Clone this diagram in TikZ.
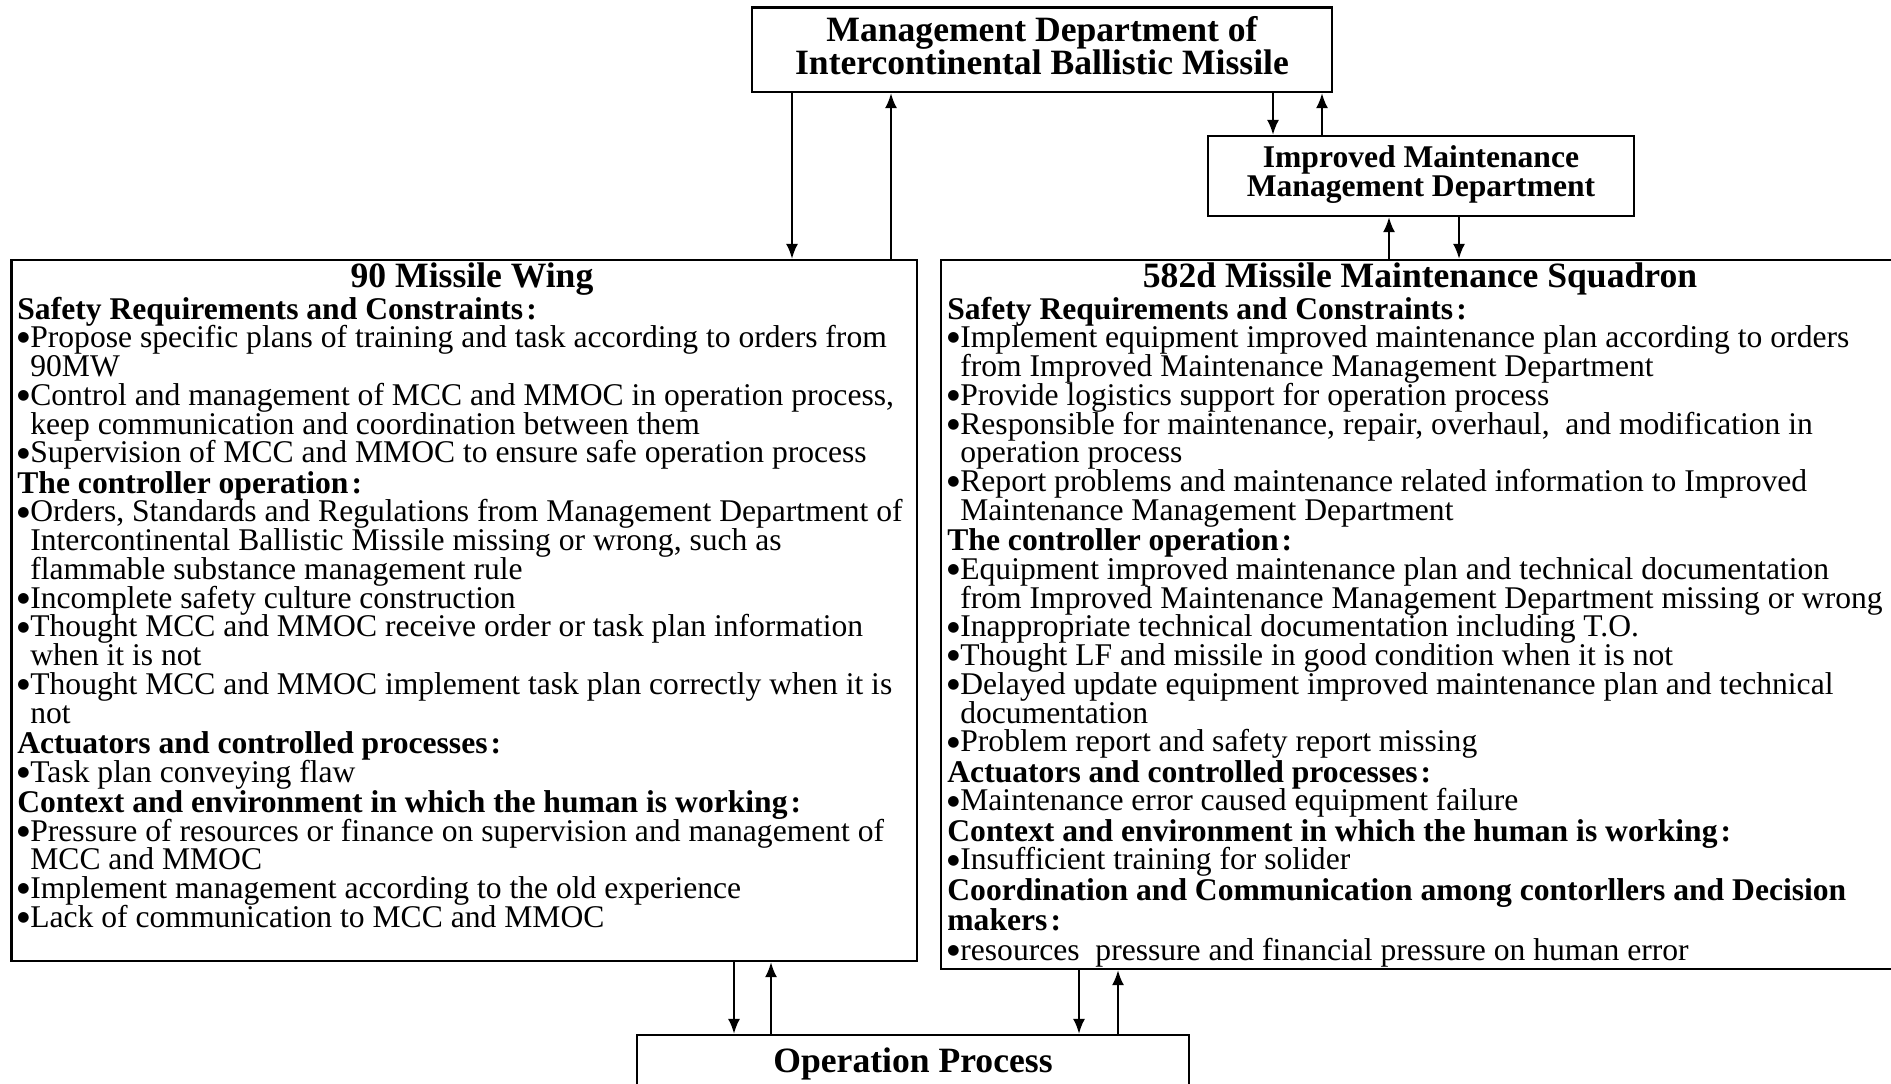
\documentclass[tikz,border=0pt]{standalone}
\usepackage{fontspec}
\setmainfont{Liberation Serif}
\newfontfamily\symfont{DejaVu Sans}
\usetikzlibrary{arrows.meta,fit}
\newcommand{\bodyfont}{\fontsize{15.8pt}{14.38pt}\selectfont}
\newcommand{\titlefont}{\fontsize{17.8pt}{15.5pt}\selectfont\bfseries}
\newcommand{\bul}{\makebox[0.41em][l]{\raisebox{2.9pt}{\symfont\fontsize{7pt}{7pt}\selectfont ●}}}
\newcommand{\ind}{\hspace*{0.41em}}
\newcommand{\hd}[1]{\textbf{#1}}
\newcommand{\cln}{\hspace{0.1em}:}
\begin{document}
\begin{tikzpicture}[x=0.5pt,y=-0.5pt,
  box/.style={draw, line width=1.1pt, inner sep=0pt},
  arr/.style={-{Latex[length=7.5pt,width=6pt]}, line width=1.1pt},
  txt/.style={inner sep=0pt, anchor=base west, font=\bodyfont},
  ttl/.style={inner sep=0pt, anchor=base, font=\titlefont},
  sub/.style={inner sep=0pt, anchor=base, font=\bodyfont\bfseries}]
\useasboundingbox (0,0) rectangle (1891,1083);
\clip (0,0) rectangle (1891,1083);
\fill[white] (0,0) rectangle (1891,1083);

% boxes
\node[box, fit={(752,7.5) (1332,92)}] (top) {};
\node[box, fit={(1208,136) (1634,216)}] (imm) {};
\node[box, fit={(11.5,260) (917,961)}] (mw) {};
\node[box, fit={(941,260) (1905,969)}] (mms) {};
\node[box, fit={(637,1035) (1189,1130)}] (op) {};

% box titles
\node[ttl] (topA) at (1042,41) {Management Department of};
\node[ttl] (topB) at (1042,74) {Intercontinental Ballistic Missile};
\node[sub] (immA) at (1421,167) {Improved Maintenance};
\node[sub] (immB) at (1421,196) {Management Department};
\node[ttl] (mwT) at (472,287) {90 Missile Wing};
\node[ttl] (mmsT) at (1420,287) {582d Missile Maintenance Squadron};
\node[ttl] (opT) at (913,1072) {Operation Process};

% left text
\node[txt] (mwtext) at (17,319) {\parbox[t]{460pt}{\lineskiplimit=-20pt\lineskip=0pt
\hd{Safety Requirements and Constraints\cln}\\
\bul Propose specific plans of training and task according to orders from\\
\ind 90MW\\
\bul Control and management of MCC and MMOC in operation process,\\
\ind keep communication and coordination between them\\
\bul Supervision of MCC and MMOC to ensure safe operation process\\[0.75pt]
\hd{The controller operation\cln}\\
\bul Orders, Standards and Regulations from Management Department of\\
\ind Intercontinental Ballistic Missile missing or wrong, such as\\
\ind flammable substance management rule\\
\bul Incomplete safety culture construction\\
\bul Thought MCC and MMOC receive order or task plan information\\
\ind when it is not\\
\bul Thought MCC and MMOC implement task plan correctly when it is\\
\ind not\\[0.75pt]
\hd{Actuators and controlled processes\cln}\\
\bul Task plan conveying flaw\\[0.75pt]
\hd{Context and environment in which the human is working\cln}\\
\bul Pressure of resources or finance on supervision and management of\\
\ind MCC and MMOC\\
\bul Implement management according to the old experience\\
\bul Lack of communication to MCC and MMOC}};

% right text
\node[txt] (mmstext) at (947,319) {\parbox[t]{470pt}{\lineskiplimit=-20pt\lineskip=0pt
\hd{Safety Requirements and Constraints\cln}\\
\bul Implement equipment improved maintenance plan according to orders\\
\ind from Improved Maintenance Management Department\\
\bul Provide logistics support for operation process\\
\bul Responsible for maintenance, repair, overhaul,\ \ and modification in\\
\ind operation process\\
\bul Report problems and maintenance related information to Improved\\
\ind Maintenance Management Department\\[0.75pt]
\hd{The controller operation\cln}\\
\bul Equipment improved maintenance plan and technical documentation\\
\ind from Improved Maintenance Management Department missing or wrong\\
\bul Inappropriate technical documentation including T.O.\\
\bul Thought LF and missile in good condition when it is not\\
\bul Delayed update equipment improved maintenance plan and technical\\
\ind documentation\\
\bul Problem report and safety report missing\\[0.75pt]
\hd{Actuators and controlled processes\cln}\\
\bul Maintenance error caused equipment failure\\[0.75pt]
\hd{Context and environment in which the human is working\cln}\\
\bul Insufficient training for solider\\[0.75pt]
\hd{Coordination and Communication among contorllers and Decision}\\[0.75pt]
\hd{makers\cln}\\[0.75pt]
\bul resources\ \ pressure and financial pressure on human error}};

% arrow positions
\coordinate (a1) at (792,0);
\coordinate (a2) at (891,0);
\coordinate (a3) at (1273,0);
\coordinate (a4) at (1322,0);
\coordinate (a5) at (1389,0);
\coordinate (a6) at (1459,0);
\coordinate (a7) at (734,0);
\coordinate (a8) at (771,0);
\coordinate (a9) at (1079,0);
\coordinate (a10) at (1118,0);

\draw[arr] (top.south -| a1) -- (mw.north -| a1);
\draw[arr] (mw.north -| a2) -- (top.south -| a2);
\draw[arr] (top.south -| a3) -- (imm.north -| a3);
\draw[arr] (imm.north -| a4) -- (top.south -| a4);
\draw[arr] (mms.north -| a5) -- (imm.south -| a5);
\draw[arr] (imm.south -| a6) -- (mms.north -| a6);
\draw[arr] (mw.south -| a7) -- (op.north -| a7);
\draw[arr] (op.north -| a8) -- (mw.south -| a8);
\draw[arr] (mms.south -| a9) -- (op.north -| a9);
\draw[arr] (op.north -| a10) -- (mms.south -| a10);
\end{tikzpicture}
\end{document}
